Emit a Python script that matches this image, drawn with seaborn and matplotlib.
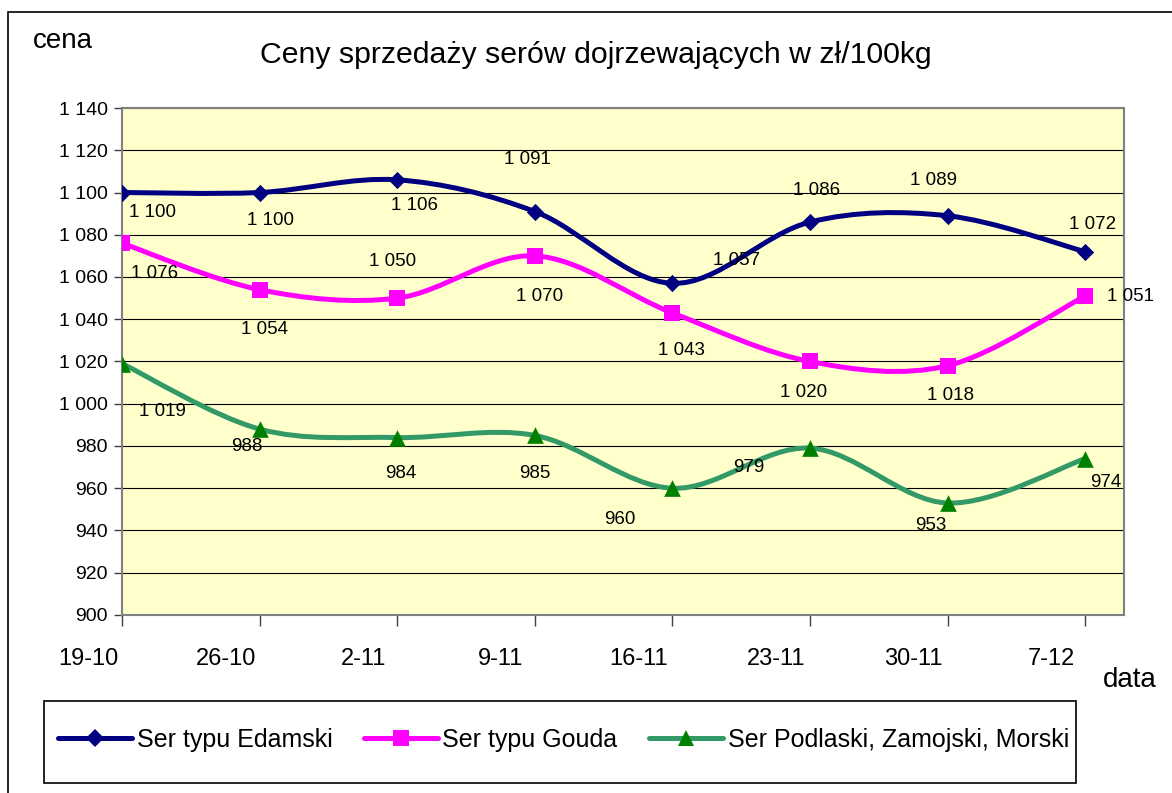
import numpy as np
import pandas as pd
import seaborn as sns
import matplotlib.pyplot as plt
import matplotlib.transforms as mtransforms
from matplotlib.path import Path
from matplotlib.patches import PathPatch, Rectangle
from matplotlib.lines import Line2D
from matplotlib.ticker import FuncFormatter, MultipleLocator

# data
daty = ['19-10', '26-10', '2-11', '9-11', '16-11', '23-11', '30-11', '7-12']
edamski = [1100, 1100, 1106, 1091, 1057, 1086, 1089, 1072]
gouda = [1076, 1054, 1050, 1070, 1043, 1020, 1018, 1051]
podlaski = [1019, 988, 984, 985, 960, 979, 953, 974]
serie = ['Ser typu Edamski', 'Ser typu Gouda', 'Ser Podlaski, Zamojski, Morski']

df = pd.DataFrame({
    'poz': list(range(len(daty))) * 3,
    'cena': edamski + gouda + podlaski,
    'seria': np.repeat(serie, len(daty)),
})

# styling per series: line colour, marker colour, marker, marker size (pt)
style = {
    serie[0]: ('#000080', '#000080', 'D', 8.8),
    serie[1]: ('#FF00FF', '#FF00FF', 's', 11),
    serie[2]: ('#339966', '#008000', '^', 12),
}
# label offsets in pixels (dx, dy)
offsets = {
    serie[0]: [(30, -20), (11, -28), (17, -26), (-7, 52), (64, 23), (7, 32), (-14, 35), (7, 27)],
    serie[1]: [(33, -30), (5, -40), (-5, 37), (5, -41), (9, -38), (-6, -31), (3, -30), (45, 0)],
    serie[2]: [(40, -48), (-13, -17), (4, -36), (0, -38), (-53, -31), (-61, -19), (-17, -22), (21, -24)],
}

sns.set_theme(style='white')
plt.rcParams['font.family'] = ['Liberation Sans', 'DejaVu Sans']
plt.rcParams['text.color'] = 'black'
plt.rcParams['xtick.labelcolor'] = 'black'
plt.rcParams['ytick.labelcolor'] = 'black'


def smooth_path(xs, ys):
    # Excel-like smoothed line (Catmull-Rom as cubic Bezier)
    pts = np.column_stack([xs, ys]).astype(float)
    n = len(pts)
    verts = [pts[0]]
    codes = [Path.MOVETO]
    for i in range(n - 1):
        p0 = pts[max(i - 1, 0)]
        p1 = pts[i]
        p2 = pts[i + 1]
        p3 = pts[min(i + 2, n - 1)]
        verts += [p1 + (p2 - p0) / 6, p2 - (p3 - p1) / 6, p2]
        codes += [Path.CURVE4] * 3
    return Path(verts, codes)


def fmt(v):
    return f'{v:,.0f}'.replace(',', ' ')


fig = plt.figure(figsize=(11.72, 7.93), dpi=100)
fig.patch.set_facecolor('white')
ax = fig.add_axes([0.1041, 0.2245, 0.855, 0.6393])
ax.set_facecolor('#FFFFCC')

handles = []
for s in serie:
    lc, mc, m, ms = style[s]
    d = df[df['seria'] == s]
    ax.add_patch(PathPatch(smooth_path(d['poz'], d['cena']), facecolor='none',
                           edgecolor=lc, lw=3.6, zorder=2, capstyle='round'))
    sns.scatterplot(x=d['poz'], y=d['cena'], marker=m, s=ms ** 2, color=mc,
                    linewidth=0, ax=ax, zorder=3, legend=False)
    for (x, y), (dx, dy) in zip(zip(d['poz'], d['cena']), offsets[s]):
        ax.annotate(fmt(y), (x, y), xytext=(dx, dy), textcoords='offset pixels',
                    ha='center', va='center', fontsize=13.5, color='black', zorder=4)
    handles.append(Line2D([], [], color=lc, lw=3.6, marker=m, markersize=ms,
                          markerfacecolor=mc, markeredgewidth=0, solid_capstyle='round'))

ax.set_xlim(0, 7.283)
ax.set_ylim(900, 1140)
ax.yaxis.set_major_locator(MultipleLocator(20))
ax.yaxis.set_major_formatter(FuncFormatter(lambda v, p: fmt(v)))
ax.set_xticks(range(len(daty)))
ax.set_xticklabels(daty)
ax.grid(axis='y', color='black', lw=0.8)
ax.set_axisbelow(True)
ax.set_xlabel('')
ax.set_ylabel('')
for sp in ax.spines.values():
    sp.set_color('#808080')
    sp.set_linewidth(1.5)
ax.tick_params(axis='y', direction='out', length=6, width=1, color='#404040',
               labelsize=14, pad=4, left=True)
ax.tick_params(axis='x', direction='out', length=8, width=1, color='#404040',
               labelsize=17, pad=16, bottom=True)
shift = mtransforms.ScaledTranslation(-34 / 100, 0, fig.dpi_scale_trans)
for lab in ax.get_xticklabels():
    lab.set_transform(lab.get_transform() + shift)

W, H = 1172, 793
fig.text(596 / W, 1 - 63 / H, 'Ceny sprzedaży serów dojrzewających w zł/100kg',
         ha='center', va='baseline', fontsize=21.8)
fig.text(33 / W, 1 - 48 / H, 'cena', ha='left', va='baseline', fontsize=20)
fig.text(1103 / W, 1 - 687 / H, 'data', ha='left', va='baseline', fontsize=20)

# outer chart border
fig.patches.append(Rectangle((8 / W, -0.2), 1.2, 1 - 12 / H + 0.2, transform=fig.transFigure,
                             fill=False, edgecolor='black', lw=1.2))
# legend box
fig.patches.append(Rectangle((44 / W, 1 - 783 / H), (1076 - 44) / W, 82 / H,
                             transform=fig.transFigure, fill=False, edgecolor='black', lw=1.2))
fig.legend(handles, serie, loc='center left', bbox_to_anchor=(58 / W, 1 - 740 / H),
           ncol=3, frameon=False, fontsize=18, handlelength=2.95, handletextpad=0.2,
           columnspacing=1.25, borderaxespad=0, borderpad=0)

fig.savefig('out.png', dpi=100)
